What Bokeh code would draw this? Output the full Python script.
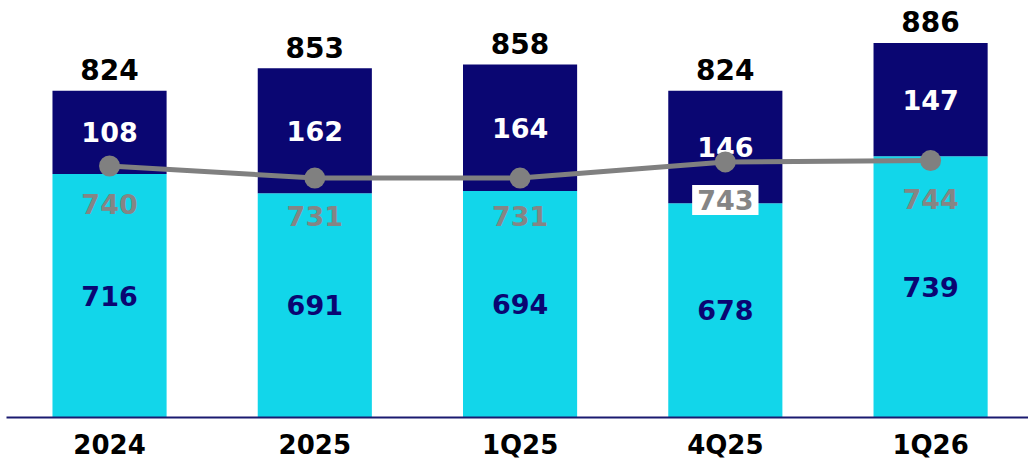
from bokeh.plotting import figure
from bokeh.models import ColumnDataSource, Range1d, FixedTicker
from bokeh.core.properties import value
from bokeh.embed import file_html
from bokeh.resources import INLINE

categories = ["2024", "2025", "1Q25", "4Q25", "1Q26"]
base_vals = [716, 691, 694, 678, 739]
top_vals = [108, 162, 164, 146, 147]
totals = [824, 853, 858, 824, 886]
line_vals = [740, 731, 731, 743, 744]

NAVY = "#0A0672"
CYAN = "#12D6EA"
GRAY = "#808080"
FONT = value("DejaVu Sans")

xs = list(range(len(categories)))
src = ColumnDataSource(dict(
    x=xs,
    base=base_vals,
    top=top_vals,
    total=totals,
    stack=[b + t for b, t in zip(base_vals, top_vals)],
    base_mid=[b / 2 + 200 for b in base_vals],
    top_mid=[b + t / 2 for b, t in zip(base_vals, top_vals)],
    line=line_vals,
    base_lbl=[str(v) for v in base_vals],
    top_lbl=[str(v) for v in top_vals],
    total_lbl=[str(v) for v in totals],
    line_lbl=[str(v) for v in line_vals],
))

p = figure(width=1028, height=462, output_backend="svg", toolbar_location=None,
           x_range=Range1d(-0.502, 4.477), y_range=Range1d(400, 941),
           min_border_left=6, min_border_right=0, min_border_top=0, min_border_bottom=43)
p.extra_y_ranges = {"line": Range1d(553, 863)}
p.outline_line_color = None
p.xgrid.visible = False
p.ygrid.visible = False
p.yaxis.visible = False
p.background_fill_color = "white"
p.border_fill_color = "white"

p.vbar(x="x", width=0.556, bottom=0, top="base", source=src, fill_color=CYAN, line_color=None)
p.vbar(x="x", width=0.556, bottom="base", top="stack", source=src, fill_color=NAVY, line_color=None)

# labels inside bars
p.text(x="x", y="base_mid", text="base_lbl", source=src, text_font=FONT, text_font_style="bold",
       text_font_size="27px", text_color=NAVY, text_align="center", text_baseline="middle")
p.text(x="x", y="top_mid", text="top_lbl", source=src, text_font=FONT, text_font_style="bold",
       text_font_size="27px", text_color="white", text_align="center", text_baseline="middle")
p.text(x="x", y="total", text="total_lbl", source=src, text_font=FONT, text_font_style="bold",
       text_font_size="28px", text_color="black", text_align="center", text_baseline="alphabetic",
       y_offset=-21)

# line
p.line(x="x", y="line", source=src, line_color=GRAY, line_width=5, y_range_name="line")
p.scatter(x="x", y="line", source=src, size=21, fill_color=GRAY, line_color=None, y_range_name="line")

idx_box = [3]
idx_plain = [i for i in xs if i not in idx_box]
lsrc_plain = ColumnDataSource(dict(x=[xs[i] for i in idx_plain], y=[line_vals[i] for i in idx_plain],
                                   t=[str(line_vals[i]) for i in idx_plain]))
lsrc_box = ColumnDataSource(dict(x=[xs[i] for i in idx_box], y=[line_vals[i] for i in idx_box],
                                 t=[str(line_vals[i]) for i in idx_box]))
p.text(x="x", y="y", text="t", source=lsrc_plain, text_font=FONT, text_font_style="bold",
       text_font_size="27px", text_color="#858585", text_align="center", text_baseline="middle",
       y_offset=38, y_range_name="line")
p.text(x="x", y="y", text="t", source=lsrc_box, text_font=FONT, text_font_style="bold",
       text_font_size="27px", text_color="#858585", text_align="center", text_baseline="middle",
       y_offset=38, y_range_name="line", background_fill_color="white", padding=5)

ax = p.xaxis[0]
ax.ticker = FixedTicker(ticks=xs)
ax.major_label_overrides = {i: c for i, c in zip(xs, categories)}
ax.axis_line_color = "#1A1A70"
ax.axis_line_width = 2
ax.major_tick_line_color = None
ax.minor_tick_line_color = None
ax.major_label_text_font = "DejaVu Sans"
ax.major_label_text_font_style = "bold"
ax.major_label_text_font_size = "26px"
ax.major_label_text_color = "black"
ax.major_label_standoff = 6

open("out.html", "w").write(file_html(p, INLINE))
